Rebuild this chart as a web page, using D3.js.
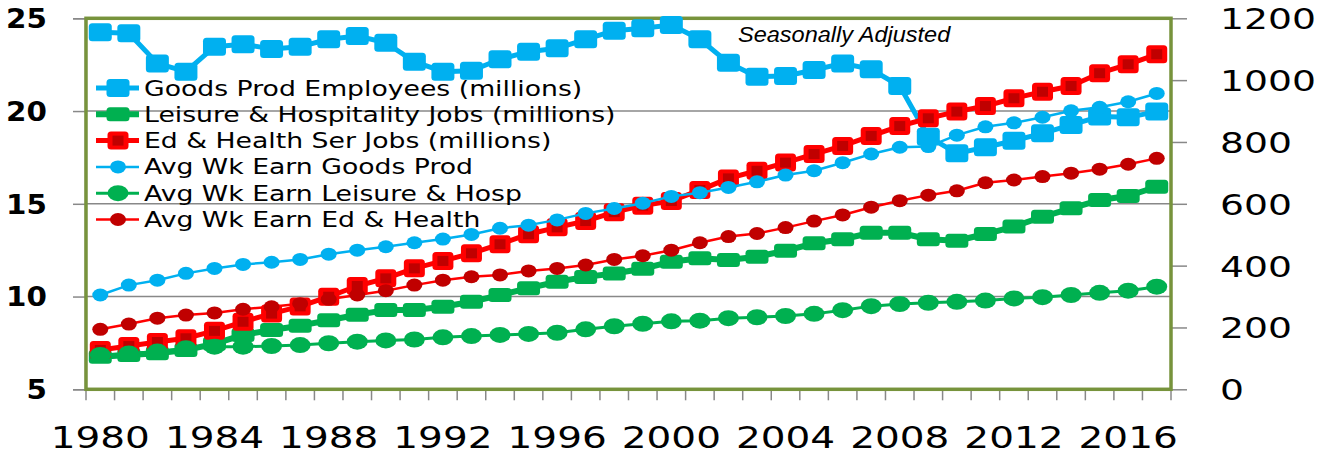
<!DOCTYPE html>
<html>
<head>
<meta charset="utf-8">
<script src="https://cdn.jsdelivr.net/npm/d3@7"></script>
<style>
  body { margin: 0; background: #fff; }
  svg { display: block; }
</style>
</head>
<body>
<svg id="chart" width="1333" height="455"></svg>
<script>
// ---------------- DATA ----------------
const years = [1980,1981,1982,1983,1984,1985,1986,1987,1988,1989,1990,1991,1992,1993,1994,1995,1996,1997,1998,1999,
               2000,2001,2002,2003,2004,2005,2006,2007,2008,2009,2010,2011,2012,2013,2014,2015,2016,2017];
const yearLabels = [1980,1984,1988,1992,1996,2000,2004,2008,2012,2016];
const leftTicks = [5,10,15,20,25];
const rightTicks = [0,200,400,600,800,1000,1200];

// left axis (millions)
const goodsEmp = [24.25,24.19,22.57,22.12,23.47,23.60,23.35,23.47,23.87,24.05,23.68,22.66,22.12,22.17,22.79,23.20,23.38,23.87,24.33,24.46,
                  24.64,23.87,22.60,21.85,21.89,22.21,22.57,22.25,21.35,18.62,17.72,18.05,18.40,18.80,19.25,19.70,19.66,19.97];
const leisureJobs = [6.76,6.85,6.94,7.12,7.45,7.93,8.20,8.43,8.72,9.02,9.27,9.28,9.45,9.72,10.08,10.45,10.80,11.06,11.24,11.50,
                     11.88,12.06,11.97,12.15,12.47,12.87,13.09,13.44,13.44,13.09,13.01,13.37,13.77,14.30,14.76,15.20,15.42,15.92];
const edJobs = [7.12,7.33,7.55,7.75,8.15,8.64,9.08,9.47,9.99,10.57,10.98,11.52,11.92,12.33,12.82,13.36,13.73,14.07,14.55,14.90,
                15.15,15.74,16.37,16.78,17.22,17.68,18.12,18.66,19.19,19.61,19.97,20.27,20.69,21.04,21.35,22.04,22.52,23.06];
// right axis (dollars)
const earnGoods = [305,337,353,375,391,404,411,420,437,450,461,474,486,501,521,531,548,569,585,602,
                   624,636,653,671,693,707,733,761,783,785,822,849,862,880,901,912,930,957];
const earnLeisure = [111,116,122,133,138,138,140,143,149,154,158,161,168,172,176,179,183,194,204,212,
                     220,222,230,233,237,244,256,269,276,280,283,287,294,298,305,312,319,332];
const earnEd = [194,211,230,240,247,259,267,277,291,305,319,337,353,364,370,383,391,402,420,432,
                450,474,494,504,523,544,564,589,610,628,642,668,677,688,699,712,728,747];

const seriesNames = [
  "Goods Prod Employees (millions)",
  "Leisure & Hospitality Jobs (millions)",
  "Ed & Health Ser Jobs (millions)",
  "Avg Wk Earn Goods Prod",
  "Avg Wk Earn Leisure & Hosp",
  "Avg Wk Earn Ed & Health"
];
const annotation = "Seasonally Adjusted";

// ---------------- LAYOUT ----------------
const L = 86, R = 1171, T = 18.3, B = 389.3;
const BLUE = "#00B0F0", GREEN = "#00B050", RED = "#FF0000", DRED = "#C00000";
const GRID = "#888888";

const svg = d3.select("#chart");
svg.append("rect").attr("width",1333).attr("height",455).attr("fill","#fff");

const x = d3.scaleBand().domain(years).range([L, R]).padding(0);
const cx = d => x(d) + x.bandwidth()/2;
const yL = d3.scaleLinear().domain([5,25]).range([B, T]);
const yR = d3.scaleLinear().domain([0,1200]).range([B, T]);

// gridlines
svg.append("g").selectAll("line").data([10,15,20]).join("line")
  .attr("x1", L).attr("x2", R).attr("y1", d=>yL(d)).attr("y2", d=>yL(d))
  .attr("stroke", GRID).attr("stroke-width", 1.5);

// left axis
const gl = svg.append("g").attr("transform", `translate(${L-1},0)`)
  .call(d3.axisLeft(yL).tickValues(leftTicks).tickSize(12).tickFormat(d3.format("d")));
gl.select(".domain").attr("stroke", GRID).attr("stroke-width", 1.5);
gl.selectAll(".tick line").attr("stroke", GRID).attr("stroke-width", 1.5);
gl.selectAll(".tick text")
  .attr("x", 0).attr("dy", "0.36em")
  .attr("transform", "translate(-38,0) scale(1.13,1)")
  .attr("text-anchor", "end")
  .style("font-family", "DejaVu Sans").style("font-weight", "bold")
  .style("font-size", "26px").attr("fill", "#000");

// right axis
const gr = svg.append("g").attr("transform", `translate(${R},0)`)
  .call(d3.axisRight(yR).tickValues(rightTicks).tickSize(16).tickFormat(d3.format("d")));
gr.select(".domain").attr("stroke", "none");
gr.selectAll(".tick line").attr("stroke", GRID).attr("stroke-width", 1.5);
gr.selectAll(".tick text")
  .attr("x", 0).attr("dy", "0.36em")
  .attr("transform", "translate(49,0) scale(1.3,1)")
  .attr("text-anchor", "start")
  .style("font-family", "DejaVu Sans").style("font-size", "29px").attr("fill", "#000");

// bottom axis: tick marks at category boundaries
const bounds = years.map(d => x(d)).concat([x(years[years.length-1]) + x.bandwidth()]);
svg.append("g").selectAll("line").data(bounds).join("line")
  .attr("x1", d=>d).attr("x2", d=>d).attr("y1", B).attr("y2", B+11)
  .attr("stroke", GRID).attr("stroke-width", 1.5);
svg.append("line").attr("x1", L).attr("x2", R).attr("y1", B+1).attr("y2", B+1)
  .attr("stroke", GRID).attr("stroke-width", 1.5);

const gb = svg.append("g").attr("transform", `translate(0,${B})`)
  .call(d3.axisBottom(x).tickValues(yearLabels).tickSize(0));
gb.select(".domain").remove();
gb.selectAll(".tick text")
  .attr("y", 0).attr("dy", 0)
  .attr("transform", "translate(0,59) scale(1.3,1)")
  .attr("text-anchor", "middle")
  .style("font-family", "DejaVu Sans").style("font-size", "30px").attr("fill", "#000");

// plot border
svg.append("rect").attr("x", L).attr("y", T).attr("width", R-L).attr("height", B-T)
  .attr("fill", "none").attr("stroke", "#77933C").attr("stroke-width", 3.5);

// annotation
svg.append("text").text(annotation)
  .attr("transform", "translate(738,42) scale(1.07,1)")
  .style("font-family", "Liberation Sans, Arial, sans-serif").style("font-style", "italic")
  .style("font-size", "22px").attr("fill", "#000");

// ---------------- SERIES ----------------
const line = (vals, ys) => d3.line().x((d,i)=>cx(years[i])).y(d=>ys(d))(vals);

const specs = [
  {vals: goodsEmp, ys: yL, color: BLUE, lw: 5, marker: "sq", w: 23, h: 18, fill: BLUE},
  {vals: leisureJobs, ys: yL, color: GREEN, lw: 6, marker: "sq", w: 23, h: 14, fill: GREEN},
  {vals: edJobs, ys: yL, color: RED, lw: 5, marker: "sqin", w: 21, h: 18, fill: RED},
  {vals: earnGoods, ys: yR, color: BLUE, lw: 2.5, marker: "el", rx: 8, ry: 6.5, fill: BLUE},
  {vals: earnLeisure, ys: yR, color: GREEN, lw: 3, marker: "el", rx: 10.5, ry: 8, fill: GREEN},
  {vals: earnEd, ys: yR, color: RED, lw: 2.5, marker: "el", rx: 8, ry: 6.5, fill: DRED}
];

function drawMarker(g, s, px, py) {
  if (s.marker === "sq" || s.marker === "sqin") {
    g.append("rect").attr("x", px - s.w/2).attr("y", py - s.h/2)
      .attr("width", s.w).attr("height", s.h).attr("rx", 3.5).attr("fill", s.fill);
    if (s.marker === "sqin") {
      g.append("rect").attr("x", px - 5.5).attr("y", py - 5)
        .attr("width", 11).attr("height", 10).attr("fill", DRED);
    }
  } else {
    g.append("ellipse").attr("cx", px).attr("cy", py).attr("rx", s.rx).attr("ry", s.ry)
      .attr("fill", s.fill);
  }
}

specs.forEach(s => {
  const g = svg.append("g");
  g.append("path").attr("d", line(s.vals, s.ys)).attr("fill", "none")
    .attr("stroke", s.color).attr("stroke-width", s.lw).attr("stroke-linejoin", "round");
  s.vals.forEach((v,i) => drawMarker(g, s, cx(years[i]), s.ys(v)));
});

// ---------------- LEGEND ----------------
const legY0 = 88, legDY = 26.3;
specs.forEach((s, i) => {
  const y = legY0 + i*legDY;
  const g = svg.append("g");
  g.append("line").attr("x1", 96).attr("x2", 139).attr("y1", y).attr("y2", y)
    .attr("stroke", s.color).attr("stroke-width", s.lw);
  drawMarker(g, s, 118, y);
  g.append("text").text(seriesNames[i])
    .attr("transform", `translate(144,${y}) scale(1.27,1)`)
    .attr("dy", "0.36em")
    .style("font-family", "DejaVu Sans").style("font-size", "21px").attr("fill", "#000");
});
</script>
</body>
</html>
